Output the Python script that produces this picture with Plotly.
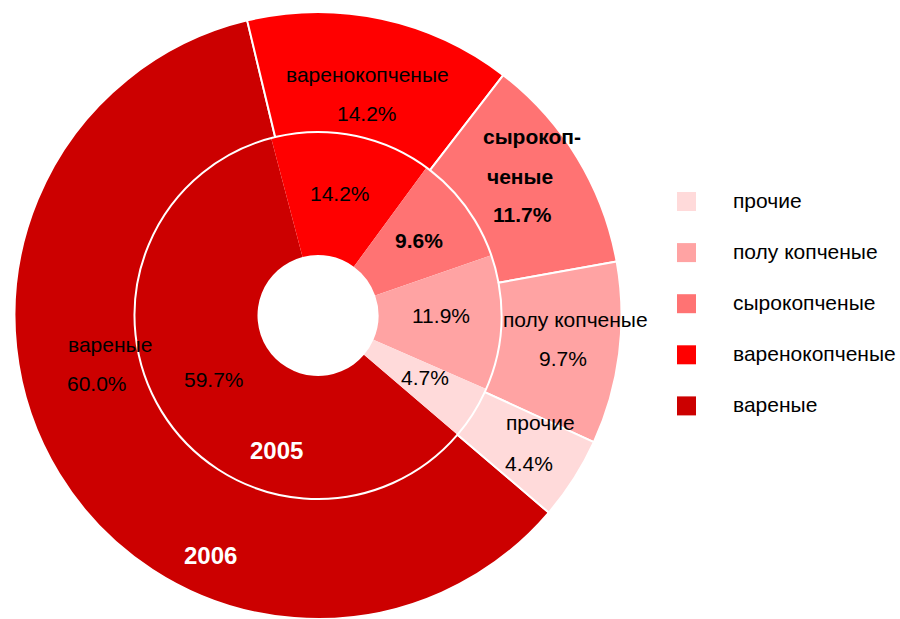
import plotly.graph_objects as go

# ---- data ----
categories = ["вареные", "варенокопченые", "сырокопченые", "полу копченые", "прочие"]
values_2006 = [60.0, 14.2, 11.7, 9.7, 4.4]
values_2005 = [59.7, 14.2, 9.6, 11.9, 4.7]
year_labels = ["2005", "2006"]
colors = ["#CC0000", "#FF0000", "#FF7373", "#FFA3A3", "#FFDADA"]
legend_order = ["прочие", "полу копченые", "сырокопченые", "варенокопченые", "вареные"]

W, H = 900, 619
FONT = "Liberation Sans, Arial, sans-serif"
FS = 21


def px(x):
    return x / W


def py(y):
    return 1 - y / H


color_of = dict(zip(categories, colors))

fig = go.Figure()

# inner ring: 2005 (drawn first so the outer ring's white border stays visible)
fig.add_trace(go.Pie(
    labels=categories, values=values_2005, sort=False, direction="clockwise",
    rotation=130.5, hole=60.5 / 183.5,
    domain=dict(x=[px(134.5), px(501.5)], y=[py(499), py(132)]),
    marker=dict(colors=colors, line=dict(color="white", width=0)),
    textinfo="none", showlegend=False, name=year_labels[0],
))

# outer ring: 2006
fig.add_trace(go.Pie(
    labels=categories, values=values_2006, sort=False, direction="clockwise",
    rotation=130.5, hole=183.5 / 303.5,
    domain=dict(x=[px(14.5), px(621.5)], y=[0, py(12)]),
    marker=dict(colors=colors, line=dict(color="white", width=2)),
    textinfo="none", showlegend=False, name=year_labels[1],
))

pct = lambda v: f"{v:.1f}%"

# label texts (text, x, y, bold)
labels = [
    # outer ring (2006)
    (categories[1], 367, 74, False),
    (pct(values_2006[1]), 367, 113, False),
    ("сырокоп-", 532, 136, True),
    ("ченые", 520, 176, True),
    (pct(values_2006[2]), 522, 215, True),
    (categories[3], 575, 319, False),
    (pct(values_2006[3]), 563, 358, False),
    (categories[4], 540, 422, False),
    (pct(values_2006[4]), 529, 463, False),
    (categories[0], 110, 344, False),
    (pct(values_2006[0]), 97, 383, False),
    # inner ring (2005)
    (pct(values_2005[1]), 340, 193, False),
    (pct(values_2005[2]), 419, 240, True),
    (pct(values_2005[3]), 441, 315, False),
    (pct(values_2005[4]), 425, 377, False),
    (pct(values_2005[0]), 214, 380, False),
]

annotations = []
for text, x, y, bold in labels:
    annotations.append(dict(
        text=f"<b>{text}</b>" if bold else text,
        x=px(x), y=py(y), xref="paper", yref="paper",
        xanchor="center", yanchor="middle", showarrow=False,
        font=dict(family=FONT, size=FS, color="#000000"),
    ))

# year labels
for text, x, y in [(year_labels[0], 276, 450), (year_labels[1], 210, 555)]:
    annotations.append(dict(
        text=f"<b>{text}</b>", x=px(x), y=py(y), xref="paper", yref="paper",
        xanchor="center", yanchor="middle", showarrow=False,
        font=dict(family=FONT, size=24, color="#FFFFFF"),
    ))

# manual legend
shapes = []
for i, cat in enumerate(legend_order):
    yc = 201.5 + i * 51.1
    shapes.append(dict(
        type="rect", xref="paper", yref="paper",
        x0=px(677), x1=px(696), y0=py(yc + 9.5), y1=py(yc - 9.5),
        fillcolor=color_of[cat], line=dict(width=0),
    ))
    annotations.append(dict(
        text=cat, x=px(731), y=py(yc - 1.5), xref="paper", yref="paper",
        xanchor="left", yanchor="middle", showarrow=False,
        font=dict(family=FONT, size=FS, color="#000000"),
    ))

fig.update_layout(
    width=W, height=H,
    margin=dict(l=0, r=0, t=0, b=0),
    paper_bgcolor="white", plot_bgcolor="white",
    showlegend=False,
    annotations=annotations, shapes=shapes,
)

fig.write_html(
    "out.html",
    config={"displayModeBar": False},
    post_script="document.body.style.margin='0';document.body.style.overflow='hidden';",
)
